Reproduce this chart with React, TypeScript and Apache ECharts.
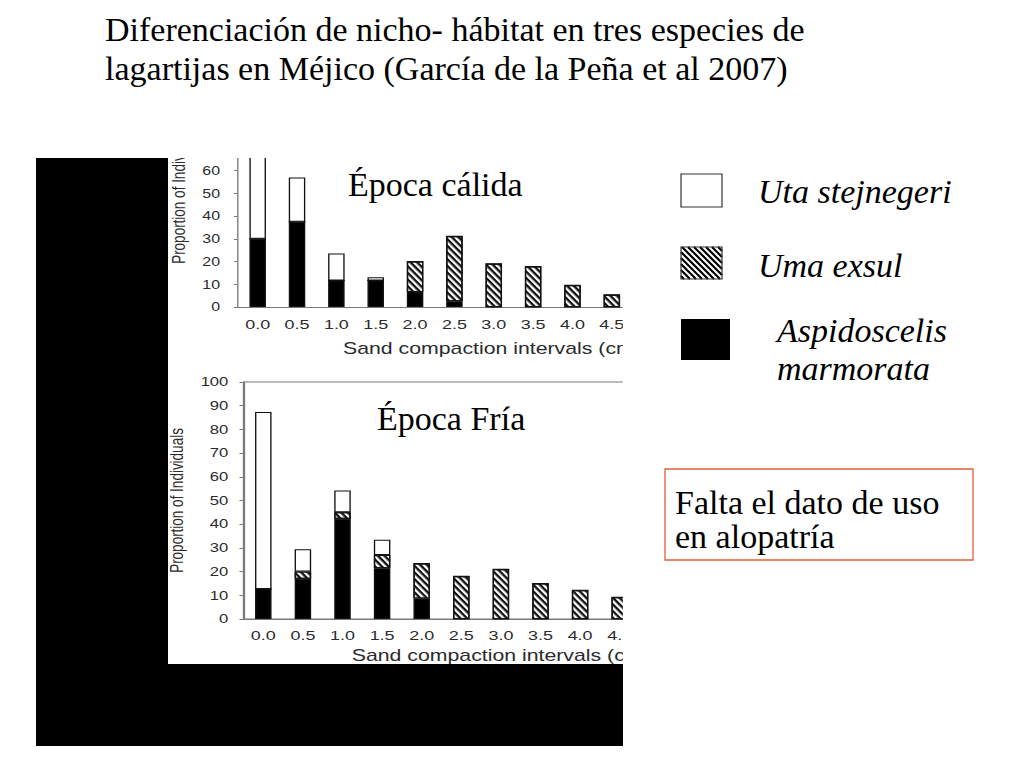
import { useEffect, useRef } from "react";
import * as echarts from "echarts";

// sand compaction intervals (cm), shared by both panels
const intervals = ["0.0", "0.5", "1.0", "1.5", "2.0", "2.5", "3.0", "3.5", "4.0", "4.5"];

// Época cálida: proportion of individuals (%)
const warmAspidoscelis = [30, 37.5, 11.7, 11.7, 6.6, 2.5, 0, 0, 0, 0];
const warmUma = [0, 0, 0, 0, 13.4, 28.6, 19, 17.8, 9.6, 5.4];
const warmUta = [40, 19.5, 11.8, 1.4, 0, 0, 0, 0, 0, 0];

// Época fría: proportion of individuals (%)
const coldAspidoscelis = [12.7, 17, 42.3, 21.4, 8.7, 0, 0, 0, 0, 0];
const coldUma = [0, 3, 2.7, 5.6, 14.7, 18, 21, 15, 12.1, 9.2];
const coldUta = [74.6, 9.4, 9.2, 6.4, 0, 0, 0, 0, 0, 0];

const species = ["Uta stejnegeri", "Uma exsul", "Aspidoscelis marmorata"];
const titleLines = [
  "Diferenciación de nicho- hábitat en tres especies de",
  "lagartijas en Méjico (García de la Peña et al 2007)",
];
const noteLines = ["Falta el dato de uso", "en alopatría"];
const seasons = ["Época cálida", "Época Fría"];

const SANS = "'Liberation Sans', Arial, sans-serif";
const SERIF = "'Liberation Serif', 'Times New Roman', serif";
const GREY = "#7a7a7a";
const INK = "#2b2b2b";

// the pasted figure is a horizontally stretched scan
const SX = 1.33;
const FIG_X = 168;
const FIG_Y = 158;
const FIG_W = 455;
const FIG_H = 506;
const fx = (px: number) => (px - FIG_X) / SX;

const hatchDecal = {
  symbol: "rect",
  symbolSize: 1,
  dashArrayX: [1, 0],
  dashArrayY: [1.2, 1.15],
  rotation: 0.926,
  color: "#111",
};

function hatchLines(x0: number, y0: number, w: number, h: number, step: number) {
  const out: any[] = [];
  for (let c = -h + step / 2; c < w; c += step) {
    const sx = x0 + Math.max(c, 0);
    const sy = y0 + Math.max(-c, 0);
    const t = Math.min(w - Math.max(c, 0), h - Math.max(-c, 0));
    if (t <= 0) continue;
    out.push({
      type: "line",
      shape: { x1: sx, y1: sy, x2: sx + t, y2: sy + t },
      style: { stroke: "#000", lineWidth: 2.2 },
    });
  }
  return out;
}

function serifText(text: string, x: number, baseline: number, italic = false) {
  return {
    type: "text",
    x,
    y: baseline - 11.5,
    style: {
      text,
      fill: "#000",
      fontFamily: SERIF,
      fontSize: 34,
      fontStyle: italic ? "italic" : "normal",
      verticalAlign: "middle",
    },
  };
}

function stackBar(name: string, data: number[], idx: number, color: string, decal?: any) {
  return {
    type: "bar",
    name,
    data,
    xAxisIndex: idx,
    yAxisIndex: idx,
    stack: "panel" + idx,
    barWidth: 16.5 / SX,
    itemStyle: { color, borderColor: "#111", borderWidth: 1, decal },
  };
}

function catAxis(idx: number, gap: number, labelMargin: number, shift: number) {
  return {
    type: "category",
    gridIndex: idx,
    data: intervals,
    axisLine: { lineStyle: { color: GREY } },
    axisTick: { length: 4, lineStyle: { color: GREY } },
    axisLabel: { color: INK, fontFamily: SANS, fontSize: 13.5, margin: labelMargin },
    name: "Sand compaction intervals (cm)",
    nameLocation: "middle",
    nameGap: gap,
    nameTextStyle: { color: INK, fontFamily: SANS, fontSize: 16, padding: [0, 0, 0, shift] },
  };
}

function valAxis(idx: number, max: number, gap: number, margin: number, size: number, shift: number) {
  return {
    type: "value",
    gridIndex: idx,
    min: 0,
    max,
    interval: 10,
    axisLine: { show: true, lineStyle: { color: GREY } },
    axisTick: { show: true, length: 3, lineStyle: { color: GREY } },
    splitLine: { show: false },
    axisLabel: { color: INK, fontFamily: SANS, fontSize: size, margin, showMaxLabel: idx === 1 },
    name: "Proportion of Individuals",
    nameLocation: "middle",
    nameGap: gap,
    nameTextStyle: { color: INK, fontFamily: SANS, fontSize: 13.5, padding: [0, 0, 0, shift] },
  };
}

export default function App() {
  const pageRef = useRef<HTMLDivElement>(null);
  const figRef = useRef<HTMLDivElement>(null);

  useEffect(() => {
    if (!pageRef.current || !figRef.current) return;
    const page = echarts.init(pageRef.current, null, { renderer: "svg" });
    const fig = echarts.init(figRef.current, null, { renderer: "svg" });

    page.setOption({
      animation: false,
      graphic: [
        { type: "rect", shape: { x: 36, y: 158, width: 587, height: 588 }, style: { fill: "#000" } },
        { type: "rect", shape: { x: FIG_X, y: FIG_Y, width: FIG_W, height: FIG_H }, style: { fill: "#fff" } },
        serifText(titleLines[0], 105, 41),
        serifText(titleLines[1], 105, 80),
        serifText(seasons[0], 348, 196),
        serifText(seasons[1], 377, 430),
        // legend
        { type: "rect", shape: { x: 681, y: 174, width: 41, height: 33 }, style: { fill: "#fff", stroke: "#333", lineWidth: 1.2 } },
        { type: "rect", shape: { x: 681, y: 247, width: 41, height: 32 }, style: { fill: "#fff" } },
        ...hatchLines(681, 247, 41, 32, 6),
        { type: "rect", shape: { x: 681, y: 247, width: 41, height: 32 }, style: { fill: "none", stroke: "#333", lineWidth: 1.2 } },
        { type: "rect", shape: { x: 681, y: 319, width: 49, height: 41 }, style: { fill: "#000" } },
        serifText(species[0], 758, 203, true),
        serifText(species[1], 758, 277, true),
        serifText(species[2].split(" ")[0], 777, 342, true),
        serifText(species[2].split(" ")[1], 777, 380, true),
        // note
        { type: "rect", shape: { x: 665, y: 469, width: 308, height: 91 }, style: { fill: "none", stroke: "#e0603a", lineWidth: 1.3 } },
        serifText(noteLines[0], 675, 514),
        serifText(noteLines[1], 675, 548),
      ],
    });

    fig.setOption({
      animation: false,
      grid: [
        { left: fx(238), top: 148 - FIG_Y, width: 393.5 / SX, height: 159, outerBoundsMode: "none" },
        {
          left: fx(243.5),
          top: 382 - FIG_Y,
          width: 396 / SX,
          height: 237,
          outerBoundsMode: "none",
          show: true,
          borderColor: GREY,
          borderWidth: 1,
        },
      ],
      xAxis: [catAxis(0, 33, 10.5, 86), catAxis(1, 28, 9, 89)],
      yAxis: [valAxis(0, 70, 37, 13.5, 12, 72), valAxis(1, 100, 35, 11.4, 12.5, 0)],
      series: [
        stackBar(species[2], warmAspidoscelis, 0, "#000"),
        stackBar(species[1], warmUma, 0, "#fff", hatchDecal),
        stackBar(species[0], warmUta, 0, "#fff"),
        stackBar(species[2], coldAspidoscelis, 1, "#000"),
        stackBar(species[1], coldUma, 1, "#fff", hatchDecal),
        stackBar(species[0], coldUta, 1, "#fff"),
      ],
    });

    return () => {
      page.dispose();
      fig.dispose();
    };
  }, []);

  return (
    <>
      <div ref={pageRef} style={{ position: "absolute", left: 0, top: 0, width: 1024, height: 768 }} />
      <div
        style={{
          position: "absolute",
          left: FIG_X,
          top: FIG_Y,
          width: FIG_W,
          height: FIG_H,
          overflow: "hidden",
        }}
      >
        <div
          ref={figRef}
          style={{ width: FIG_W / SX, height: FIG_H, transform: `scaleX(${SX})`, transformOrigin: "0 0" }}
        />
      </div>
    </>
  );
}
